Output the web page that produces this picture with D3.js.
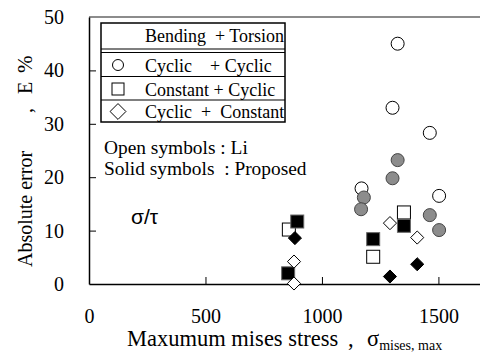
<!DOCTYPE html>
<html>
<head>
<meta charset="utf-8">
<script src="https://cdn.jsdelivr.net/npm/d3@7"></script>
<style>
  body { margin: 0; background: #fff; }
  text { font-family: "Liberation Serif", "Times New Roman", serif; fill: #000; white-space: pre; }
</style>
</head>
<body>
<svg id="chart" width="480" height="353"></svg>
<script>
// tick labels
var xTicks = [0, 500, 1000, 1500];
var yTicks = [0, 10, 20, 30, 40, 50];

// Li (open) and proposed (solid) errors, by loading case
var openCircleX = [1325, 1303, 1463, 1170, 1503];
var openCircleY = [45, 33, 28.3, 17.9, 16.5];
var grayCircleX = [1325, 1303, 1180, 1168, 1463, 1503];
var grayCircleY = [23.2, 19.8, 16.2, 14.0, 12.9, 10.1];
var openSquareX = [858, 1352, 1220];
var openSquareY = [10.2, 13.4, 5.1];
var solidSquareX = [894, 855, 1352, 1220];
var solidSquareY = [11.7, 2.0, 10.9, 8.4];
var openDiamondX = [880, 880, 1292, 1409];
var openDiamondY = [4.2, 0.1, 11.4, 8.7];
var solidDiamondX = [884, 1292, 1409];
var solidDiamondY = [8.6, 1.4, 3.7];

var legendHead = 'Bending  + Torsion';
var legendRows = ['Cyclic    + Cyclic', 'Constant + Cyclic', 'Cyclic  +  Constant'];

var svg = d3.select('#chart');

var x = d3.scaleLinear().domain([0, 1700]).range([89, 485]);
var y = d3.scaleLinear().domain([0, 50]).range([284, 17]);

// top border (grey), left + bottom come from the axes
svg.append('line').attr('x1', x(0)).attr('x2', 480).attr('y1', y(50)).attr('y2', y(50))
	.style('stroke', '#666').style('stroke-width', 1.5);

var xAxis = svg.append('g')
	.attr('transform', 'translate(0,' + y(0) + ')')
	.call(d3.axisBottom(x).tickValues(xTicks).tickFormat(d3.format('d'))
		.tickSizeInner(-7).tickSizeOuter(0).tickPadding(24.5));
var yAxis = svg.append('g')
	.attr('transform', 'translate(' + x(0) + ',0)')
	.call(d3.axisLeft(y).tickValues(yTicks).tickSizeInner(-7).tickSizeOuter(0).tickPadding(25));

[xAxis, yAxis].forEach(function (ax) {
	ax.select('.domain').style('stroke', '#000').style('stroke-width', 1.5);
	ax.selectAll('.tick line').style('stroke', '#000');
	ax.selectAll('.tick text').style('font-family', '"Liberation Serif", serif').style('font-size', '20px');
});
xAxis.select('.tick line').remove();
yAxis.selectAll('.tick').filter(function (d) { return d === 0 || d === 50; }).select('line').remove();

// axis titles
svg.append('text').attr('x', 127).attr('y', 346).style('font-size', '22.5px').text('Maxumum mises stress');
svg.append('text').attr('x', 348).attr('y', 346).style('font-size', '22.5px').text(',');
var sg = svg.append('text').attr('x', 367).attr('y', 346).style('font-size', '22.5px');
sg.append('tspan').text('σ');
sg.append('tspan').attr('dy', 4).style('font-size', '14px').text('mises, max');

var yt = svg.append('g').attr('transform', 'translate(32,0) rotate(-90)');
yt.append('text').attr('x', -267).style('font-size', '20px').text('Absolute error');
yt.append('text').attr('x', -113).style('font-size', '20px').text(',');
yt.append('text').attr('x', -94).style('font-size', '20px').text('E');
yt.append('text').attr('x', -73).style('font-size', '21px').text('%');

// markers
var pts = function (xs, ys) { return xs.map(function (v, i) { return [v, ys[i]]; }); };

function circles(data, fill) {
	svg.append('g').selectAll('circle').data(data).enter().append('circle')
		.attr('cx', function (d) { return x(d[0]); })
		.attr('cy', function (d) { return y(d[1]); })
		.attr('r', 6.5)
		.style('fill', fill).style('stroke', fill === '#fff' ? '#000' : '#444').style('stroke-width', 1);
}
function squares(data, fill) {
	svg.append('g').selectAll('rect').data(data).enter().append('rect')
		.attr('x', function (d) { return x(d[0]) - 6.5; })
		.attr('y', function (d) { return y(d[1]) - 6.5; })
		.attr('width', 13).attr('height', 13)
		.style('fill', fill).style('stroke', fill === '#000' ? '#666' : '#000').style('stroke-width', 1);
}
var diamond = d3.symbol().type(d3.symbolDiamond2).size(110);
function diamonds(data, fill) {
	svg.append('g').selectAll('path').data(data).enter().append('path')
		.attr('d', diamond)
		.attr('transform', function (d) { return 'translate(' + x(d[0]) + ',' + y(d[1]) + ')'; })
		.style('fill', fill).style('stroke', '#000').style('stroke-width', 1);
}

circles(pts(openCircleX, openCircleY), '#fff');
circles(pts(grayCircleX, grayCircleY), '#8c8c8c');
squares(pts(openSquareX, openSquareY), '#fff');
squares(pts(solidSquareX, solidSquareY), '#000');
diamonds(pts(openDiamondX, openDiamondY), '#fff');
diamonds(pts(solidDiamondX, solidDiamondY), '#000');

// legend table
var lg = svg.append('g');
lg.append('rect').attr('x', 101).attr('y', 23).attr('width', 184).attr('height', 99)
	.style('fill', '#fff').style('stroke', '#000').style('stroke-width', 1.5);
[49, 52.5, 76.5, 100].forEach(function (ly) {
	lg.append('line').attr('x1', 101).attr('x2', 285).attr('y1', ly).attr('y2', ly)
		.style('stroke', '#000').style('stroke-width', 1.2);
});
lg.append('text').attr('x', 145).attr('y', 42).style('font-size', '18px').text(legendHead);
var rowY = [65, 89, 111.5];
legendRows.forEach(function (t, i) {
	lg.append('text').attr('x', 145).attr('y', rowY[i] + 6.5).style('font-size', '18px').text(t);
});
lg.append('circle').attr('cx', 118).attr('cy', rowY[0]).attr('r', 5.5)
	.style('fill', '#fff').style('stroke', '#000');
lg.append('rect').attr('x', 112).attr('y', rowY[1] - 6).attr('width', 12).attr('height', 12)
	.style('fill', '#fff').style('stroke', '#000');
lg.append('path').attr('d', d3.symbol().type(d3.symbolDiamond2).size(160))
	.attr('transform', 'translate(118,' + rowY[2] + ')')
	.style('fill', '#fff').style('stroke', '#000');

// notes
svg.append('text').attr('x', 104).attr('y', 154).style('font-size', '19.4px').text('Open symbols : Li');
svg.append('text').attr('x', 104).attr('y', 174.5).style('font-size', '19.4px').text('Solid symbols  : Proposed');
svg.append('text').attr('x', 131).attr('y', 224).style('font-family', '"Liberation Sans", sans-serif')
	.style('font-size', '21px').text('σ/τ');
</script>
</body>
</html>
